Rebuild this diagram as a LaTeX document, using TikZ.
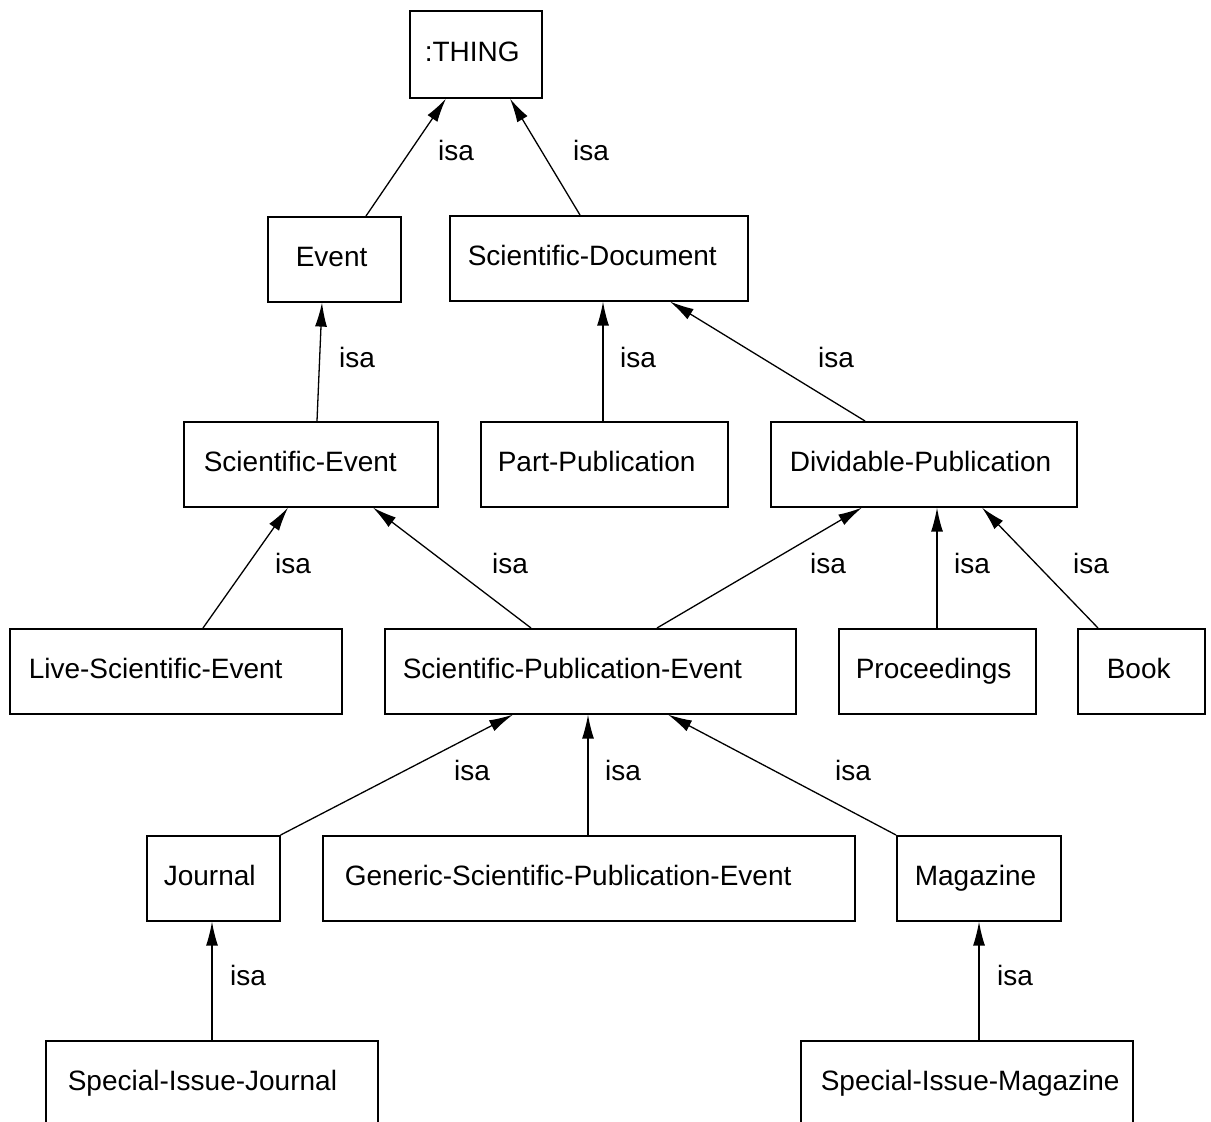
\documentclass[tikz,border=0pt]{standalone}
\usepackage{fontspec}
\setmainfont{Liberation Sans}
\usetikzlibrary{arrows.meta}
% left-aligned class name inside a box of fixed inner width
\newcommand\clsname[2]{\makebox[#1pt][l]{#2}}
\begin{document}
\begin{tikzpicture}[x=1pt,y=-1pt,
  cls/.style={draw, line width=1.6pt, anchor=north west, inner ysep=29.5pt,
    text height=20pt, text depth=6pt, font=\fontsize{28}{34}\selectfont},
  isa/.style={line width=1.3pt, -{Latex[length=24pt,width=12pt]}},
  isalbl/.style={anchor=base, inner sep=0pt, font=\fontsize{28}{34}\selectfont}]
\useasboundingbox (0,0) rectangle (1211,1122);
\clip (0,0) rectangle (1211,1122);

% classes
\node[cls, inner xsep=15pt, inner ysep=29.5pt, minimum height=87pt] (thing) at (409,10) {\clsname{102}{:THING}};
\node[cls, inner xsep=28pt] (event) at (267,216) {\clsname{77}{Event}};
\node[cls, inner xsep=18pt] (scidoc) at (449,215) {\clsname{262}{Scientific-Document}};
\node[cls, inner xsep=20pt] (scievent) at (183,421) {\clsname{214}{Scientific-Event}};
\node[cls, inner xsep=17pt] (partpub) at (480,421) {\clsname{213}{Part-Publication}};
\node[cls, inner xsep=19pt] (divpub) at (770,421) {\clsname{268}{Dividable-Publication}};
\node[cls, inner xsep=19pt] (live) at (9,628) {\clsname{294}{Live-Scientific-Event}};
\node[cls, inner xsep=18pt] (spe) at (384,628) {\clsname{375}{Scientific-Publication-Event}};
\node[cls, inner xsep=17pt] (proc) at (838,628) {\clsname{163}{Proceedings}};
\node[cls, inner xsep=29pt] (book) at (1077,628) {\clsname{69}{Book}};
\node[cls, inner xsep=17pt] (journal) at (146,835) {\clsname{99}{Journal}};
\node[cls, inner xsep=22pt] (generic) at (322,835) {\clsname{488}{Generic-Scientific-Publication-Event}};
\node[cls, inner xsep=18pt] (magazine) at (896,835) {\clsname{128}{Magazine}};
\node[cls, inner xsep=22pt] (sij) at (45,1040) {\clsname{288}{Special-Issue-Journal}};
\node[cls, inner xsep=20pt] (sim) at (800,1040) {\clsname{292}{Special-Issue-Magazine}};

% isa links, child to parent
\draw[isa] ([xshift=99pt]event.north west) -- ([xshift=37pt]thing.south west);
\draw[isa] ([xshift=131pt]scidoc.north west) -- ([xshift=101pt]thing.south west);
\draw[isa] ([xshift=134pt]scievent.north west) -- ([xshift=55pt]event.south west);
\draw[isa] ([xshift=123pt]partpub.north west) -- ([xshift=154pt]scidoc.south west);
\draw[isa] ([xshift=95pt]divpub.north west) -- ([xshift=221pt]scidoc.south west);
\draw[isa] ([xshift=194pt]live.north west) -- ([xshift=105pt]scievent.south west);
\draw[isa] ([xshift=147pt]spe.north west) -- ([xshift=190pt]scievent.south west);
\draw[isa] ([xshift=273pt]spe.north west) -- ([xshift=92pt]divpub.south west);
\draw[isa] ([xshift=99pt]proc.north west) -- ([xshift=167pt]divpub.south west);
\draw[isa] ([xshift=21pt]book.north west) -- ([xshift=212pt]divpub.south west);
\draw[isa] (journal.north east) -- ([xshift=129pt]spe.south west);
\draw[isa] ([xshift=266pt]generic.north west) -- ([xshift=204pt]spe.south west);
\draw[isa] (magazine.north west) -- ([xshift=284pt]spe.south west);
\draw[isa] ([xshift=167pt]sij.north west) -- ([xshift=66pt]journal.south west);
\draw[isa] ([xshift=179pt]sim.north west) -- ([xshift=83pt]magazine.south west);

% link labels
\node[isalbl] (l1) at (456,160) {isa};
\node[isalbl] (l2) at (591,160) {isa};
\node[isalbl] (l3) at (357,367) {isa};
\node[isalbl] (l4) at (638,367) {isa};
\node[isalbl] (l5) at (836,367) {isa};
\node[isalbl] (l6) at (293,573) {isa};
\node[isalbl] (l7) at (510,573) {isa};
\node[isalbl] (l8) at (828,573) {isa};
\node[isalbl] (l9) at (972,573) {isa};
\node[isalbl] (l10) at (1091,573) {isa};
\node[isalbl] (l11) at (472,780) {isa};
\node[isalbl] (l12) at (623,780) {isa};
\node[isalbl] (l13) at (853,780) {isa};
\node[isalbl] (l14) at (248,985) {isa};
\node[isalbl] (l15) at (1015,985) {isa};
\end{tikzpicture}
\end{document}
